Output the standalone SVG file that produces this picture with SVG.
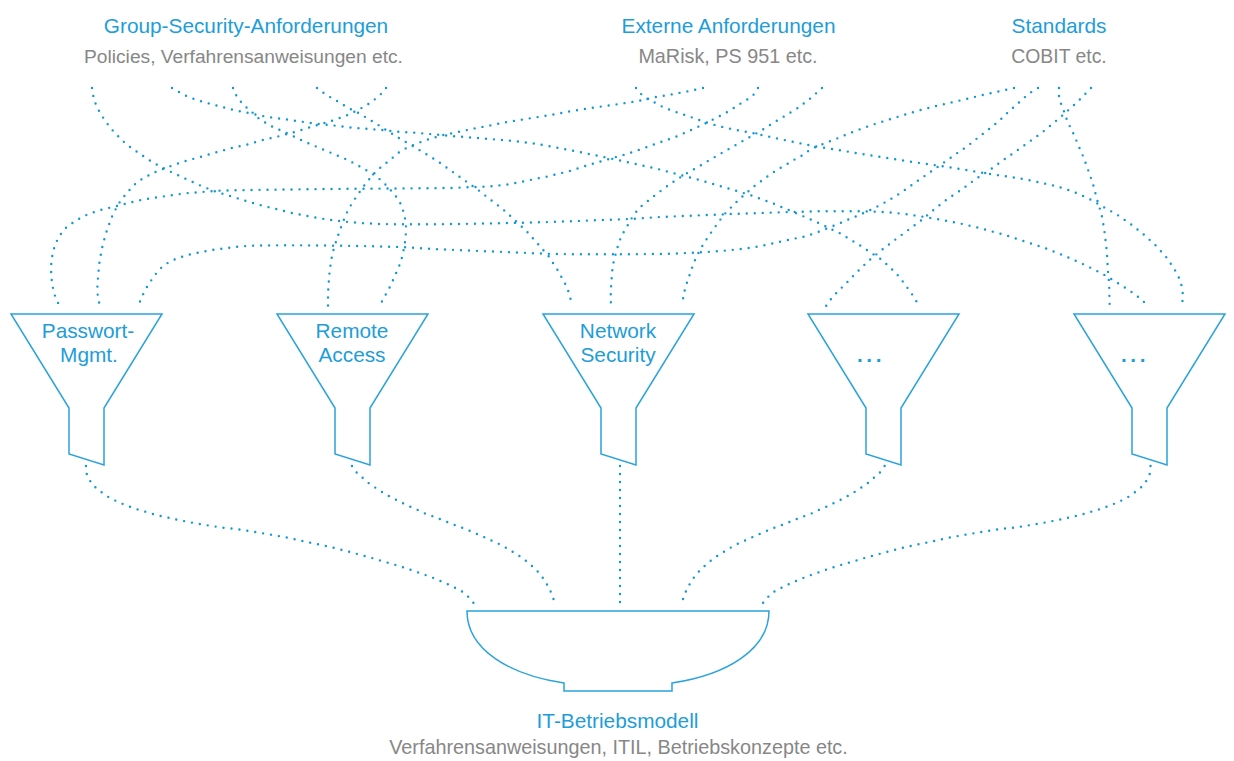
<svg xmlns="http://www.w3.org/2000/svg" width="1234" height="761" viewBox="0 0 1234 761">
<style>
.t{font-family:"Liberation Sans",Arial,sans-serif;fill:#1d9dd9;font-size:20.8px;text-anchor:middle}
.s{font-family:"Liberation Sans",Arial,sans-serif;fill:#878787;font-size:19.4px;text-anchor:middle}
.f{fill:#fff;stroke:#2aa3dc;stroke-width:1.5;stroke-linejoin:miter}
.c{fill:none;stroke:#1197d4;stroke-width:2.4;stroke-linecap:round;stroke-dasharray:0 8}
</style>
<rect width="1234" height="761" fill="#fff"/>
<g id="connectors">
<path class="c" d="M92,88 L93.5,97 96,105 99.5,112 104,119 109,126 114,132 120,138 126,144 133,149 140,154 153,162.5 168,170.5 184,178 199,185 214,191 230,196 246,201 262,205.5 278,209.5 294,213.5 310,216.5 327,219.5 343,221.5 360,223 380,224 400,224.3 430,224.3 470,223.8 510,223 550,222 590,220.5 630,219 660,217 700,215.3 740,213.7 780,212.3 820,211.2 860,211.2 885,212 905,214 925,217 945,220.5 965,224.5 985,229.5 1005,235 1025,241.5 1045,248 1065,256 1085,265 1102,273.5 1117,282.5 1131,291.5 1141,299 1148,306"/>
<path class="c" d="M172,88 L179,92 186,95.7 194,99 202,101.5 218,106 234,110 250,113.3 266,116.7 283,119 299,121.3 315,123.7 332,125.3 349,127.3 365,128.7 382,130 398,131.7 415,132.7 448,135.7 481,138.3 514,141 538,144 559,148 583,152.7 607,157.7 630,162.7 655,168.3 678,174.3 702,180.7 726,187.7 749,194.7 772,203 795,212.7 818,222.7 840,233.3 861,246 882,260 896,273 904,283 909,290 914,297 919,306"/>
<path class="c" d="M233,88 L236,95 241,102 247,108 253,113 259,118.7 266,123 273,127 281,130.5 289,134 303,141 318,147.3 333,153.7 348,160 362,167.7 376,176 384,183 389,188.3 394,194 399,200.3 402,207 404.5,215.3 406,224.3 406,232 405.3,240.3 404,248 402.3,256.3 400,264 396.7,271.7 393.5,279 390,286.7 386,294 382.3,300.7 380,306"/>
<path class="c" d="M317,88 L323,92.5 330,97 337,101 344,105.3 351,109.3 359,113.3 366,117.5 373,121.7 380,126 387,130.7 394,135 401,139.3 408,143.3 415,147.3 422,151.7 437,160.7 450,170 463,179.3 477,189 490,199.3 503,209.3 515,220.3 527,231.7 538,244 549,256.7 558,270.7 566,285.3 569,293 571,300.7 572,306"/>
<path class="c" d="M386,88 L381,94 374,100 367,105 359,109.5 351,113.5 344,116.5 337,119 330,121.5 313,126.3 297,131.3 281,135.7 264,139.7 248,144.3 232,148 216,152.3 200,157 183,161.7 168,167 153,173 138,181.3 132,187 127,193 121,200 117,206.7 113,214 110,222 107,230 104.7,237.7 102.5,246 101,253.7 99.5,262 98.7,270 98,278 97.4,286.7 97.7,295 98.5,300 100,306"/>
<path class="c" d="M636,88 L640.7,93.7 647,98.7 655,102.7 662,106.5 670,110 686,115.3 701,120.7 717,125.7 733,129.3 749,132.3 765,135.7 781,139.3 797,142.7 813,146 830,148.7 846,151.3 862,154 879,156.7 895,159.3 911,161.7 927,164 943,166.3 960,169 976,171.7 992,174.3 1009,176.7 1025,179.3 1041,182.7 1057,186.3 1074,192 1089,198.7 1103,206.7 1118,215.3 1131,224.3 1144,234.7 1156,245.7 1167,258 1176,271.7 1180,280 1182,287.3 1183,295.3 1182,306"/>
<path class="c" d="M703,88 L686,91.7 670,94.7 654,97.3 638,101 621,103.7 605,106 589,108.3 572,111 556,114 540,116.7 524,119.3 507,122 491,125.3 475,128.3 458,132 442,135.3 434,137.7 426,140 419,142.7 412,145.5 405,148.7 398,153 392,158.3 385.5,163.5 379,168.7 373,174.5 368,180.7 363,187 358,194.3 353.5,201 349,208.3 345.5,215.5 342.5,223.3 339.5,231 337,238.7 334.5,246.5 332.3,254 331,262 329.7,270.7 329,279 328.3,287.7 328,297 328,306"/>
<path class="c" d="M758,88 L753.3,95 746.7,100 739.3,104.3 732.3,109 725,113.3 717.3,117.3 710,121 702.7,124.7 695.3,128 688.3,131.3 680.7,134.7 673.3,137.7 665.7,140.3 658,143 650,146 642.3,148.7 634.7,151.3 626.7,154 618.7,156.3 610.7,158.5 603,160.7 595,163 587,165.5 579,168 571.5,170.5 563.5,172.5 555.5,174.5 547.5,176.5 539.5,178 523.5,181.5 507.5,184.5 491.5,186.3 475,187 450,188 420,188.3 390,188.5 350,188.8 310,189.2 270,189.7 240,190.2 218,190.7 201.7,192 185,193.3 168.7,195.7 152,198 135.7,201 127.7,203.3 119,205.5 111.5,207.3 103.3,209.2 95.7,211.5 88,214.3 80.3,218 72.3,223 65.3,228.3 60,235 56,242.7 53.3,250.7 51.7,259 51,267.3 51.3,276 52.3,284.7 54,293 56.7,300.7 60,306"/>
<path class="c" d="M822,88 L815.7,93.7 809.3,99.3 802.7,104.3 796,109.3 789,113.3 782,117.7 775,121.7 768,126.3 761,130.7 754,134.7 746.7,138.7 739.7,142.7 732.3,147 725.3,151 718.3,155 711.3,159 704,163.3 696.7,167.7 689.3,171.7 682,176.3 675.3,180.5 668.7,185 662,190 655.3,195 649,200 642,205.5 636.5,211.5 632,217.7 628.5,224 624.7,230.3 621,237 618.3,244.7 616,252.7 614,260 612.5,268 611.8,276 611.2,284 610.8,292.3 610.8,300.7 611,306"/>
<path class="c" d="M1014,88 L997.3,91.7 981.3,95.3 965,99.3 949,103 933,106.7 917,111 901.3,115.7 885.3,120.7 869.7,125.7 854.3,131.3 839,137.7 823.7,143.7 816,146.8 809.3,150.3 802.3,155.3 795,159.3 787.7,163.7 780.7,167.7 773.3,172.3 766.7,177 760,182 753.3,187 747.3,192.3 741,197.8 735,203.3 729.5,209 724,214.7 719,221.5 714,228.5 709.3,235 704.5,242.3 700.3,249.3 696.5,256.7 693.3,264 690.7,272 688,279.3 685.5,287.3 683.5,295.3 682.3,306"/>
<path class="c" d="M1038,88 L1033.3,90.5 1025,97 1016.7,104.5 1008.3,112 1000,120 991.7,127 983.3,133.5 975,140 966.7,146.7 958,152.5 950,158.3 941.7,164 933.3,170 925,175.7 916.7,181.5 908.3,187.5 900,193.3 891.7,198.5 883.3,203.3 875,207.7 866.7,211.7 857.5,215.7 848.3,219.5 839,223.5 830,227.3 818,232 806.7,236 795,238.5 783.3,241 768,244.5 753.3,247.3 737,249.5 720,251 707,252 693.3,252.7 676,253.5 660,254 630,254.2 600,254.3 575,254.2 553.3,254 533,253.2 513.3,252.3 497,251.7 480,251 456,250 433.3,249 415,247.8 400,247 370,246.2 340,245.7 310,245.4 283.3,245.3 266,245.4 250,245.7 237,246.8 225,248.3 212,250 200,252.3 190,254.5 180,257.3 171,261 163.3,265.7 157.5,271.5 152.7,278.3 148,285 144,292.3 141,299 138.3,306"/>
<path class="c" d="M1059,88 L1059,96 1061,103.7 1064,111.3 1066.7,119.3 1070,126.7 1073.7,134.3 1077,142 1080,149.3 1083.3,156.7 1086.3,165 1089.3,173.3 1092.3,181.7 1094.5,189.3 1096.5,197.7 1099,206 1101.5,214 1103,222.3 1104.3,230.3 1105.3,238.3 1106.3,246.7 1107,255 1107.5,263 1108,271.7 1108.8,280 1109.2,288 1109.4,296.7 1109.7,306"/>
<path class="c" d="M1091,88 L1079.3,100 1066.7,111.7 1054.7,122 1042.3,132.3 1029,142 1015.3,151.7 1002,161 988.7,170.7 975.3,179.3 962,189.3 948.3,198.3 935,208.7 921.7,220 908.3,230 894.7,240 881.7,250 868.3,261 856.7,272.3 844.7,284.7 832.7,296.7 826,306"/>
<path class="c" d="M86,466 L86.8,474 90.4,481.3 95.7,487.7 102.1,492.7 108.9,497.3 116,501 123.6,504.3 131.4,507.3 139.3,510 147.5,512.3 155.4,514.7 163.6,516.7 171.4,518.3 179.3,520.3 187.5,521.7 195.4,523.3 203.6,524.7 211.8,526 220,527.3 238.6,529.3 255,532 271.4,534.7 287.5,537.7 303.9,541.3 320,544.7 336.1,548.3 352.5,552.7 368.6,557 384.3,561.7 400.4,566.3 416.1,571.7 431.8,577.3 446.8,583.7 454.3,587.3 461.8,591.3 468,596.5 473.6,603"/>
<path class="c" d="M352,466 L356.4,472.3 362.5,477.7 368.9,483.3 375.4,487.7 382.5,492.3 389.3,496.3 396.4,500 403.9,503.7 411.4,507.3 418.6,510.3 426.1,514 433.9,516.7 441.4,519.7 448.9,522.7 456.4,525.7 463.9,528.3 471.8,531.7 479.3,535 486.8,538.3 493.9,541.7 501.4,545 508.6,549.3 515.7,553.7 522.5,558 528.9,563.3 534.6,568.3 540.4,574.3 545,581 549,588 552.5,595.7 554.6,603"/>
<path class="c" d="M620,466 L620,603"/>
<path class="c" d="M884.6,466 L880.1,472.3 874,477.7 867.6,483.3 861.1,487.7 854,492.3 847.2,496.3 840.1,500 832.6,503.7 825.1,507.3 817.9,510.3 810.4,514 802.6,516.7 795.1,519.7 787.6,522.7 780.1,525.7 772.6,528.3 764.7,531.7 757.2,535 749.7,538.3 742.6,541.7 735.1,545 727.9,549.3 720.8,553.7 714,558 707.6,563.3 701.9,568.3 696.1,574.3 691.5,581 687.5,588 684,595.7 681.9,603"/>
<path class="c" d="M1150.5,466 L1149.7,474 1146.1,481.3 1140.8,487.7 1134.4,492.7 1127.6,497.3 1120.5,501 1112.9,504.3 1105.1,507.3 1097.2,510 1089,512.3 1081.1,514.7 1072.9,516.7 1065.1,518.3 1057.2,520.3 1049,521.7 1041.1,523.3 1032.9,524.7 1024.7,526 1016.5,527.3 997.9,529.3 981.5,532 965.1,534.7 949,537.7 932.6,541.3 916.5,544.7 900.4,548.3 884,552.7 867.9,557 852.2,561.7 836.1,566.3 820.4,571.7 804.7,577.3 789.7,583.7 782.2,587.3 774.7,591.3 768.5,596.5 762.9,603"/>
</g>
<g id="group-security">
<text class="t" x="246" y="33">Group-Security-Anforderungen</text>
<text class="s" x="243.5" y="63" style="font-size:19.2px">Policies, Verfahrensanweisungen etc.</text>
</g>
<g id="externe-anforderungen">
<text class="t" x="728.5" y="33">Externe Anforderungen</text>
<text class="s" x="728" y="63" style="font-size:19.8px">MaRisk, PS 951 etc.</text>
</g>
<g id="standards">
<text class="t" x="1059" y="33">Standards</text>
<text class="s" x="1059" y="63">COBIT etc.</text>
</g>
<g id="funnel-passwort">
<path class="f" d="M11,314 H162 L104,408 V465 L69,454 V408 Z"/>
<text class="t" x="88" y="337.5">Passwort-</text>
<text class="t" x="89" y="362">Mgmt.</text>
</g>
<g id="funnel-remote">
<path class="f" d="M277,314 H428 L370,408 V465 L335,454 V408 Z"/>
<text class="t" x="352" y="337.5">Remote</text>
<text class="t" x="352" y="362">Access</text>
</g>
<g id="funnel-network">
<path class="f" d="M543,314 H694 L636,408 V465 L601,454 V408 Z"/>
<text class="t" x="618" y="337.5">Network</text>
<text class="t" x="618" y="362">Security</text>
</g>
<g id="funnel-4">
<path class="f" d="M808,314 H959 L901,408 V465 L866,454 V408 Z"/>
<text class="t" x="871" y="362" letter-spacing="3.5" font-weight="bold">...</text>
</g>
<g id="funnel-5">
<path class="f" d="M1074,314 H1225 L1167,408 V465 L1132,454 V408 Z"/>
<text class="t" x="1135" y="362" letter-spacing="3.5" font-weight="bold">...</text>
</g>
<g id="it-betriebsmodell">
<path class="f" d="M467,611 H769 C769,650 726,675 672,683 V691 H564 V683 C510,675 467,650 467,611 Z"/>
<text class="t" x="617.5" y="728">IT-Betriebsmodell</text>
<text class="s" x="618.5" y="754" style="font-size:19.8px">Verfahrensanweisungen, ITIL, Betriebskonzepte etc.</text>
</g>
</svg>
